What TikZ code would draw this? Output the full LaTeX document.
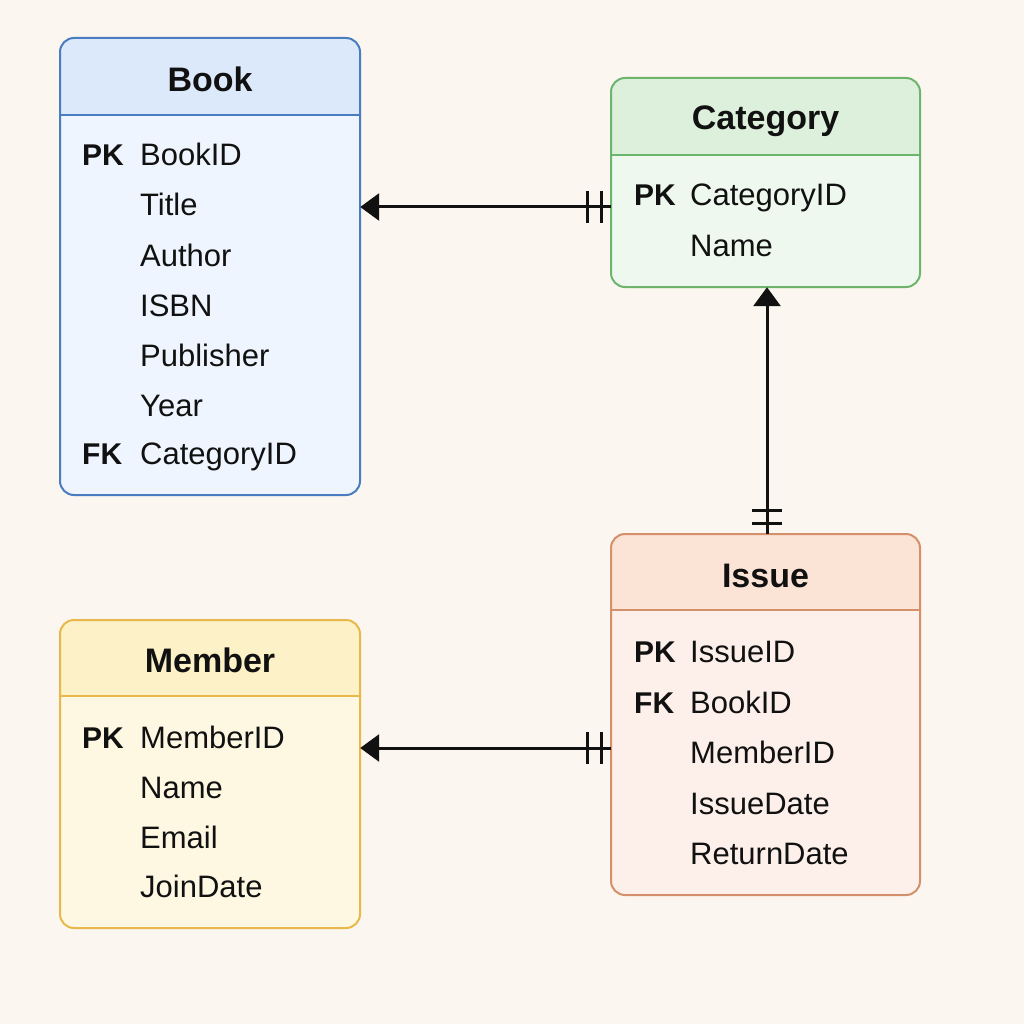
\documentclass[tikz,border=0pt]{standalone}
\usepackage{fontspec}
\setmainfont{Liberation Sans}
\usetikzlibrary{arrows.meta,calc,fit}
\definecolor{bg}{HTML}{FBF6EF}
\definecolor{bookB}{HTML}{4A7CC0}\definecolor{bookH}{HTML}{DCE9FA}\definecolor{bookF}{HTML}{EEF5FE}
\definecolor{catB}{HTML}{6DB46D}\definecolor{catH}{HTML}{DDF0DC}\definecolor{catF}{HTML}{EEF8EE}
\definecolor{issB}{HTML}{D4906A}\definecolor{issH}{HTML}{FBE3D6}\definecolor{issF}{HTML}{FDF0EA}
\definecolor{memB}{HTML}{E8B94A}\definecolor{memH}{HTML}{FDF1C7}\definecolor{memF}{HTML}{FEF8E2}
\definecolor{ink}{HTML}{111111}
\newcommand{\erbox}[9]{%
  \begin{scope}
    \clip[rounded corners=14pt] (#2,#3) rectangle (#4,#5);
    \fill[#9] (#2,#3) rectangle (#4,#5);
    \fill[#8] (#2,#3) rectangle (#4,#6);
  \end{scope}
  \draw[#7, line width=2pt] (#2,#6) -- (#4,#6);
  \draw[#7, line width=2pt, rounded corners=14pt] (#2,#3) rectangle (#4,#5);
  \coordinate (#1-nw) at (#2,#3);
  \coordinate (#1-se) at (#4,#5);
  \node[inner sep=0pt, fit=(#1-nw)(#1-se)] (#1) {};
}
\tikzset{
  title/.style={anchor=base, inner sep=0pt, text=ink, font=\bfseries\fontsize{34}{34}\selectfont},
  key/.style={anchor=base west, inner sep=0pt, text=ink, font=\bfseries\fontsize{30}{30}\selectfont},
  field/.style={anchor=base west, inner sep=0pt, text=ink, font=\fontsize{31}{31}\selectfont},
  conn/.style={draw=ink, line width=3pt, -{Triangle[length=19pt,width=27pt]}},
  bar/.style={draw=ink, line width=3pt}
}
\begin{document}
\begin{tikzpicture}[x=1pt,y=-1pt]
\fill[bg] (0,0) rectangle (1024,1024);
\useasboundingbox (0,0) rectangle (1024,1024);

% Book
\erbox{book}{60}{38}{360}{495}{115}{bookB}{bookH}{bookF}
\node[title] (tbook) at (210,92) {Book};
\node[key] (bpk) at (82,166) {PK};
\node[field] (b1) at (140,166) {BookID};
\node[field] (b2) at (140,216) {Title};
\node[field] (b3) at (140,266) {Author};
\node[field] (b4) at (140,316) {ISBN};
\node[field] (b5) at (140,366) {Publisher};
\node[field] (b6) at (140,416) {Year};
\node[key] (bfk) at (82,464) {FK};
\node[field] (b7) at (140,464) {CategoryID};

% Category
\erbox{cat}{611}{78}{920}{287}{155}{catB}{catH}{catF}
\node[title] (tcat) at (765.5,130) {Category};
\node[key] (cpk) at (634,206) {PK};
\node[field] (c1) at (690,206) {CategoryID};
\node[field] (c2) at (690,256) {Name};

% Issue
\erbox{iss}{611}{534}{920}{895}{610}{issB}{issH}{issF}
\node[title] (tiss) at (765.5,587) {Issue};
\node[key] (ipk) at (634,662) {PK};
\node[field] (i1) at (690,662) {IssueID};
\node[key] (ifk) at (634,713) {FK};
\node[field] (i2) at (690,713) {BookID};
\node[field] (i3) at (690,763) {MemberID};
\node[field] (i4) at (690,814) {IssueDate};
\node[field] (i5) at (690,864) {ReturnDate};

% Member
\erbox{mem}{60}{620}{360}{928}{696}{memB}{memH}{memF}
\node[title] (tmem) at (210,672) {Member};
\node[key] (mpk) at (82,748) {PK};
\node[field] (m1) at (140,748) {MemberID};
\node[field] (m2) at (140,798) {Name};
\node[field] (m3) at (140,848) {Email};
\node[field] (m4) at (140,897) {JoinDate};

% Connectors
\coordinate (a1) at (cat.west |- 0,207);
\draw[conn] (a1) -- (book.east |- a1);
\draw[bar] ($(a1)+(-9,-16)$) -- ++(0,32);
\draw[bar] ($(a1)+(-23,-16)$) -- ++(0,32);

\coordinate (a2) at ([xshift=1.5pt]iss.north);
\draw[conn] (a2) -- (a2 |- cat.south);
\draw[bar] ($(a2)+(-15,-10)$) -- ++(30,0);
\draw[bar] ($(a2)+(-15,-23)$) -- ++(30,0);

\coordinate (a3) at (iss.west |- 0,748);
\draw[conn] (a3) -- (mem.east |- a3);
\draw[bar] ($(a3)+(-9,-16)$) -- ++(0,32);
\draw[bar] ($(a3)+(-23,-16)$) -- ++(0,32);
\end{tikzpicture}
\end{document}
